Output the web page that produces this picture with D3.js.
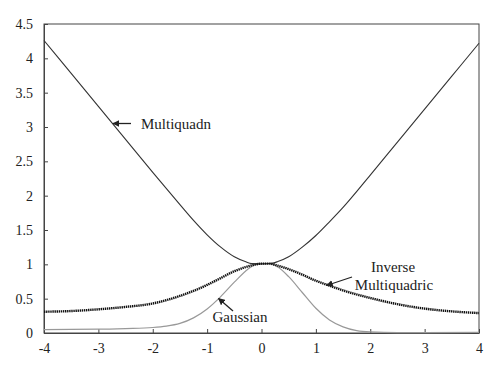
<!DOCTYPE html>
<html><head><meta charset="utf-8">
<script src="https://cdn.jsdelivr.net/npm/d3@7"></script>
<style>body{margin:0;background:#fff}svg{display:block}text{font-family:"Liberation Serif","DejaVu Serif",serif;fill:#222}</style>
</head><body><svg id="c" width="500" height="369"></svg>
<script>
const xTicks = [-4,-3,-2,-1,0,1,2,3,4];
const yTicks = [0,0.5,1,1.5,2,2.5,3,3.5,4,4.5];
const yTickLabels = ["0","0.5","1","1.5","2","2.5","3","3.5","4","4.5"];

const mqX = [-4,-3.5,-3,-2.5,-2,-1.5,-1.25,-1,-0.75,-0.5,-0.3,-0.18,0,0.19,0.3,0.5,0.75,1,1.25,1.5,2,2.5,3,3.5,4];
const mqY = [4.26,3.78,3.30,2.82,2.34,1.87,1.64,1.43,1.25,1.11,1.04,1.01,1.005,1.015,1.04,1.11,1.25,1.42,1.62,1.83,2.30,2.78,3.26,3.74,4.22];

const imqX = [-4,-3.5,-3,-2.5,-2,-1.5,-1,-0.75,-0.5,-0.25,-0.1,0,0.15,0.3,0.5,0.75,1,1.25,1.5,2,2.5,3,3.5,4];
const imqY = [0.31,0.32,0.345,0.38,0.43,0.54,0.70,0.80,0.90,0.97,1.0,1.01,1.01,0.98,0.93,0.85,0.76,0.69,0.62,0.51,0.42,0.355,0.315,0.29];

const gaX = [-4,-3,-2.5,-2,-1.75,-1.5,-1.25,-1,-0.75,-0.5,-0.25,-0.1,0,0.15,0.3,0.5,0.75,1,1.25,1.5,1.75,2,2.5,3,4];
const gaY = [0.05,0.055,0.065,0.08,0.1,0.14,0.22,0.35,0.53,0.74,0.93,1.0,1.01,1.01,0.96,0.82,0.59,0.36,0.19,0.09,0.035,0.015,0.005,0.005,0.01];

const svg = d3.select("#c");
const L=44,R=479,T=24,B=333;
const x = d3.scaleLinear().domain([-4,4]).range([L,R]);
const y = d3.scaleLinear().domain([0,4.5]).range([B,T]);

svg.append("defs").append("marker").attr("id","ah").attr("viewBox","0 0 10 10")
  .attr("refX",9).attr("refY",5).attr("markerWidth",7).attr("markerHeight",7)
  .attr("markerUnits","userSpaceOnUse").attr("orient","auto")
  .append("path").attr("d","M0,0L10,5L0,10z").attr("fill","#222");

const xa = svg.append("g").attr("transform",`translate(0,${B})`)
  .call(d3.axisBottom(x).tickValues(xTicks).tickSizeInner(-4).tickSizeOuter(0).tickPadding(10).tickFormat(d=>d));
const ya = svg.append("g").attr("transform",`translate(${L},0)`)
  .call(d3.axisLeft(y).tickValues(yTicks).tickSizeInner(-4).tickSizeOuter(0).tickPadding(11).tickFormat((d,i)=>yTickLabels[i]));
[xa,ya].forEach(a=>{a.selectAll("path,line").attr("stroke","#444");a.selectAll("text").style("font-size","14px").attr("fill","#222");});
svg.append("rect").attr("x",L).attr("y",T).attr("width",R-L).attr("height",B-T).attr("fill","none").attr("stroke","#444");

const line = d3.line().x(d=>x(d[0])).y(d=>y(d[1])).curve(d3.curveMonotoneX);
svg.append("path").datum(gaX.map((v,i)=>[v,gaY[i]])).attr("d",line).attr("fill","none").attr("stroke","#999").attr("stroke-width",1.2);
svg.append("path").datum(mqX.map((v,i)=>[v,mqY[i]])).attr("d",line).attr("fill","none").attr("stroke","#333").attr("stroke-width",1.1);
svg.append("path").datum(imqX.map((v,i)=>[v,imqY[i]])).attr("d",line).attr("fill","none").attr("stroke","#111").attr("stroke-width",2.4).attr("stroke-dasharray","1.4,0.7");

function ann(x1,y1,x2,y2){svg.append("line").attr("x1",x1).attr("y1",y1).attr("x2",x2).attr("y2",y2).attr("stroke","#222").attr("stroke-width",1.3).attr("marker-end","url(#ah)");}
ann(131,123.5,113,123.5);
svg.append("text").attr("x",141).attr("y",129).style("font-size","15px").text("Multiquadn");
ann(233,311,218.5,298.5);
svg.append("text").attr("x",240).attr("y",322).attr("text-anchor","middle").style("font-size","15px").text("Gaussian");
ann(352,277,326.5,285.5);
svg.append("text").attr("x",393).attr("y",272).attr("text-anchor","middle").style("font-size","15px").text("Inverse");
svg.append("text").attr("x",394).attr("y",290).attr("text-anchor","middle").style("font-size","15px").text("Multiquadric");
</script></body></html>
